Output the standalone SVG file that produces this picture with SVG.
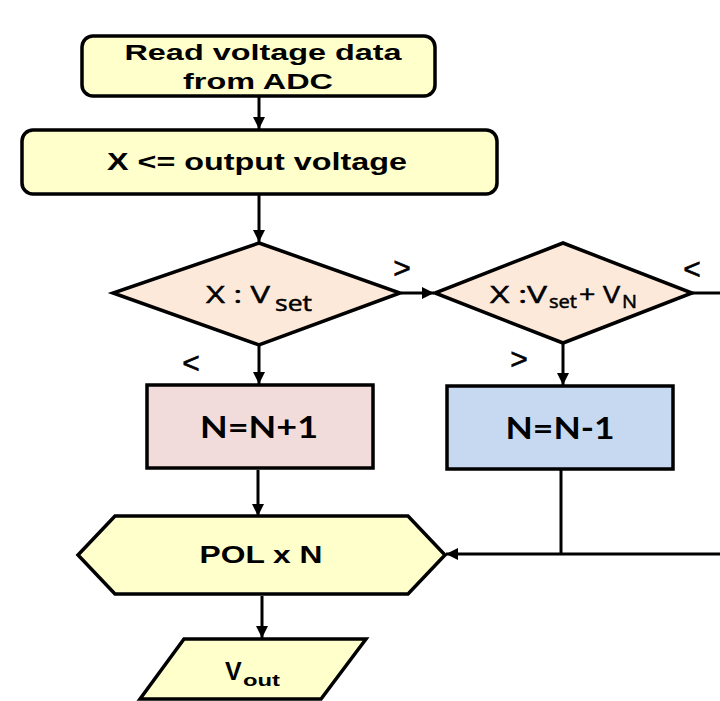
<svg xmlns="http://www.w3.org/2000/svg" width="720" height="701" viewBox="0 0 720 701">
<style>
  .shape { stroke: #000; stroke-width: 3.5; stroke-linejoin: miter; }
  .yel { fill: #FFFFCC; }
  .peach { fill: #FDE9D9; }
  .pink { fill: #F2DCDB; }
  .blue { fill: #C6D9F1; }
  .arial { font-family: "Liberation Sans", Arial, sans-serif; font-weight: bold; fill: #000; }
  .cal { font-family: "Open Sans", "Noto Sans", sans-serif; fill: #000; stroke: #000; stroke-width: 0.5; }
  .calb { font-family: Lato, "Open Sans", sans-serif; font-weight: bold; fill: #000; }
  .lbl { font-family: "Liberation Sans", Arial, sans-serif; font-size: 30px; fill: #000; stroke: #000; stroke-width: 0.6; }
  .conn { stroke: #000; stroke-width: 3; fill: none; }
</style>
<defs>
  <marker id="arr" viewBox="0 0 10 10" refX="10" refY="5" markerWidth="4" markerHeight="4" markerUnits="strokeWidth" orient="auto">
    <path d="M0,0 L10,5 L0,10 Z" fill="#000"/>
  </marker>
</defs>
<rect width="720" height="701" fill="#fff"/>

<g id="connectors">
  <line class="conn" x1="259" y1="97" x2="259" y2="129" marker-end="url(#arr)"/>
  <line class="conn" x1="259" y1="195" x2="259" y2="242" marker-end="url(#arr)"/>
  <line class="conn" x1="401" y1="293" x2="434" y2="293" marker-end="url(#arr)"/>
  <line class="conn" x1="692" y1="293" x2="720" y2="293"/>
  <line class="conn" x1="259" y1="345" x2="259" y2="384" marker-end="url(#arr)"/>
  <line class="conn" x1="563" y1="344" x2="563" y2="385" marker-end="url(#arr)"/>
  <line class="conn" x1="258" y1="470" x2="258" y2="516" marker-end="url(#arr)"/>
  <line class="conn" x1="561" y1="470" x2="561" y2="554"/>
  <line class="conn" x1="720" y1="554" x2="446" y2="554" marker-end="url(#arr)"/>
  <line class="conn" x1="262" y1="596" x2="262" y2="638" marker-end="url(#arr)"/>
  <text class="lbl" x="402" y="278" text-anchor="middle">&gt;</text>
  <text class="lbl" x="692" y="279" text-anchor="middle">&lt;</text>
  <text class="lbl" x="191" y="373" text-anchor="middle">&lt;</text>
  <text class="lbl" x="519" y="369" text-anchor="middle">&gt;</text>
</g>

<g id="read">
  <rect class="shape yel" x="82" y="36" width="353" height="60" rx="11"/>
  <text class="arial" x="263" y="60" font-size="22" text-anchor="middle" textLength="277" lengthAdjust="spacingAndGlyphs">Read voltage data</text>
  <text class="arial" x="258" y="89" font-size="22" text-anchor="middle" textLength="150" lengthAdjust="spacingAndGlyphs">from ADC</text>
</g>

<g id="assign">
  <rect class="shape yel" x="22" y="130" width="475" height="64" rx="11"/>
  <text class="arial" x="257" y="170" font-size="23" text-anchor="middle" textLength="300" lengthAdjust="spacingAndGlyphs">X &lt;= output voltage</text>
</g>

<g id="cmp1">
  <polygon class="shape peach" points="259,243 400,293 259,345 113,293"/>
  <text class="cal" font-size="24"><tspan x="206" y="303" textLength="64" lengthAdjust="spacingAndGlyphs">X : V</tspan><tspan x="275" y="311" font-size="21" textLength="37" lengthAdjust="spacingAndGlyphs">set</tspan></text>
</g>

<g id="cmp2">
  <polygon class="shape peach" points="563,243 692,293 563,343 435,293"/>
  <text class="cal" font-size="24"><tspan x="490" y="303" textLength="57" lengthAdjust="spacingAndGlyphs">X :V</tspan><tspan x="549" y="308" font-size="18" textLength="28" lengthAdjust="spacingAndGlyphs">set</tspan><tspan x="579" y="303" textLength="41" lengthAdjust="spacingAndGlyphs">+ V</tspan><tspan x="622" y="308" font-size="18" textLength="15" lengthAdjust="spacingAndGlyphs">N</tspan></text>
</g>

<g id="inc">
  <rect class="shape pink" x="147" y="385" width="226" height="83"/>
  <text class="calb" x="259" y="438" font-size="31" text-anchor="middle" textLength="118" lengthAdjust="spacingAndGlyphs">N=N+1</text>
</g>

<g id="dec">
  <rect class="shape blue" x="447" y="386" width="226" height="83"/>
  <text class="calb" x="560" y="439" font-size="31" text-anchor="middle" textLength="109" lengthAdjust="spacingAndGlyphs">N=N-1</text>
</g>

<g id="pol">
  <polygon class="shape yel" points="78,555 115,516 408,516 445,555 408,594 115,594"/>
  <text class="arial" x="261" y="563" font-size="23" text-anchor="middle" textLength="123" lengthAdjust="spacingAndGlyphs">POL x N</text>
</g>

<g id="vout">
  <polygon class="shape yel" points="184,639 366,639 321,699 140,699"/>
  <text class="arial" font-size="25"><tspan x="225" y="680">V</tspan><tspan x="243" y="686" font-size="17" textLength="37" lengthAdjust="spacingAndGlyphs">out</tspan></text>
</g>
</svg>
